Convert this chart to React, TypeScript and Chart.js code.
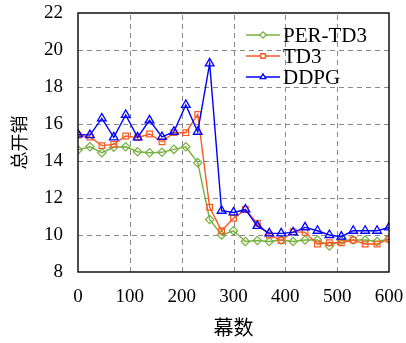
import React, { useEffect, useRef } from "react";
import { Chart, registerables } from "chart.js";
import { drawPoint } from "chart.js/helpers";

Chart.register(...registerables);

const episodes = [0, 23, 46, 69, 92, 115, 138, 162, 185, 208, 231, 254, 277, 300, 323, 346, 369, 392, 415, 438, 462, 485, 508, 531, 554, 577, 600];
const perTd3 = [14.6, 14.77, 14.45, 14.74, 14.77, 14.5, 14.45, 14.47, 14.63, 14.77, 13.91, 10.84, 10.0, 10.23, 9.65, 9.7, 9.65, 9.73, 9.65, 9.73, 9.73, 9.41, 9.7, 9.73, 9.73, 9.65, 9.78];
const td3 = [15.4, 15.3, 14.83, 14.9, 15.35, 15.26, 15.46, 15.04, 15.53, 15.53, 16.52, 11.5, 10.23, 10.9, 11.38, 10.63, 10.0, 9.7, 10.18, 10.14, 9.51, 9.58, 9.58, 9.73, 9.51, 9.51, 9.78];
const ddpg = [15.44, 15.4, 16.3, 15.28, 16.49, 15.28, 16.2, 15.3, 15.58, 17.03, 15.58, 19.28, 11.31, 11.22, 11.38, 10.49, 10.09, 10.09, 10.14, 10.41, 10.23, 10.0, 9.91, 10.23, 10.23, 10.23, 10.41];
const seriesNames = ["PER-TD3", "TD3", "DDPG"];
const xTitle = "幕数";
const yTitle = "总开销";

const GREEN = "#77b040";
const ORANGE = "#fa5a22";
const BLUE = "#0000ff";
const SERIF = "'Liberation Serif', serif";
const CJK = "'Noto Sans CJK SC', sans-serif";

export default function App() {
  const ref = useRef<HTMLCanvasElement>(null);
  useEffect(() => {
    document.body.style.margin = "0";
    const ctx = ref.current!;
    const mk = (arr: number[]) => arr.map((v, i) => ({ x: episodes[i], y: v }));
    const extras = {
      id: "extras",
      beforeDatasetsDraw(chart: any) {
        const c = chart.ctx;
        const a = chart.chartArea;
        c.save();
        c.strokeStyle = "#8a8a8a";
        c.lineWidth = 1;
        c.setLineDash([5, 4]);
        const xs = chart.scales.x;
        xs.ticks.forEach((t: any) => {
          if (t.value <= xs.min || t.value >= xs.max) return;
          const px = Math.round(xs.getPixelForValue(t.value)) + 0.5;
          c.beginPath();
          c.moveTo(px, a.bottom);
          c.lineTo(px, a.top);
          c.stroke();
        });
        const ys = chart.scales.y;
        ys.ticks.forEach((t: any) => {
          if (t.value <= ys.min || t.value >= ys.max) return;
          const py = Math.round(ys.getPixelForValue(t.value)) + 0.5;
          c.beginPath();
          c.moveTo(a.left, py);
          c.lineTo(a.right, py);
          c.stroke();
        });
        c.restore();
      },
      afterDraw(chart: any) {
        const c = chart.ctx;
        const a = chart.chartArea;
        c.save();
        c.strokeStyle = "#000";
        c.lineWidth = 1.4;
        c.setLineDash([]);
        c.strokeRect(a.left, a.top, a.right - a.left, a.bottom - a.top);
        // titles
        c.fillStyle = "#000";
        c.textAlign = "center";
        c.textBaseline = "middle";
        c.font = `20px ${CJK}`;
        c.fillText(xTitle, (a.left + a.right) / 2, 327);
        c.font = `18px ${CJK}`;
        c.save();
        c.translate(19, (a.top + a.bottom) / 2);
        c.rotate(-Math.PI / 2);
        c.fillText(yTitle, 0, 0);
        c.restore();
        // legend
        const ds = chart.data.datasets;
        ds.forEach((d: any, i: number) => {
          const y = 35 + i * 21;
          const x0 = a.right - 143;
          const x1 = a.right - 109;
          c.strokeStyle = d.borderColor;
          c.lineWidth = 1.3;
          c.beginPath();
          c.moveTo(x0, y);
          c.lineTo(x1, y);
          c.stroke();
          c.fillStyle = "#fff";
          drawPoint(c, { pointStyle: d.pointStyle, radius: 3.2, borderWidth: 1.2, rotation: 0 } as any, (x0 + x1) / 2, y);
          c.fillStyle = "#000";
          c.font = `21px ${SERIF}`;
          c.textAlign = "left";
          c.textBaseline = "middle";
          c.fillText(d.label, x1 + 3, y + 1);
        });
        c.restore();
      },
    };
    const chart = new Chart(ctx, {
      type: "line",
      data: {
        datasets: [
          { label: seriesNames[0], data: mk(perTd3), borderColor: GREEN, backgroundColor: "rgba(0,0,0,0)", pointStyle: "rectRot", pointRadius: 4.2, pointBorderWidth: 1.2, borderWidth: 1.4, order: 2 },
          { label: seriesNames[1], data: mk(td3), borderColor: ORANGE, backgroundColor: "rgba(0,0,0,0)", pointStyle: "rect", pointRadius: 4, pointBorderWidth: 1.2, borderWidth: 1.4, order: 1 },
          { label: seriesNames[2], data: mk(ddpg), borderColor: BLUE, backgroundColor: "rgba(0,0,0,0)", pointStyle: "triangle", pointRadius: 5, pointBorderWidth: 1.3, borderWidth: 1.4, order: 0 },
        ] as any,
      },
      options: {
        animation: false,
        responsive: false,
        events: [],
        layout: { padding: { left: 0, top: 13, right: 17, bottom: 0 } },
        plugins: { legend: { display: false }, tooltip: { enabled: false } },
        scales: {
          x: {
            type: "linear",
            min: 0,
            max: 600,
            ticks: { stepSize: 100, color: "#000", font: { family: SERIF, size: 19 }, padding: 14 },
            grid: { display: false, drawTicks: false },
            border: { display: false },
            afterFit: (s: any) => { s.height = 71; s.paddingLeft = 0; s.paddingRight = 0; },
          } as any,
          y: {
            min: 8,
            max: 22,
            ticks: { stepSize: 2, color: "#000", font: { family: SERIF, size: 19 }, padding: 15 },
            grid: { display: false, drawTicks: false },
            border: { display: false },
            afterFit: (s: any) => { s.width = 78; s.paddingTop = 0; s.paddingBottom = 0; },
          } as any,
        },
      },
      plugins: [extras],
    });
    return () => chart.destroy();
  }, []);
  return (
    <div style={{ width: 406, height: 343 }}>
      <canvas ref={ref} width={406} height={343} />
    </div>
  );
}
